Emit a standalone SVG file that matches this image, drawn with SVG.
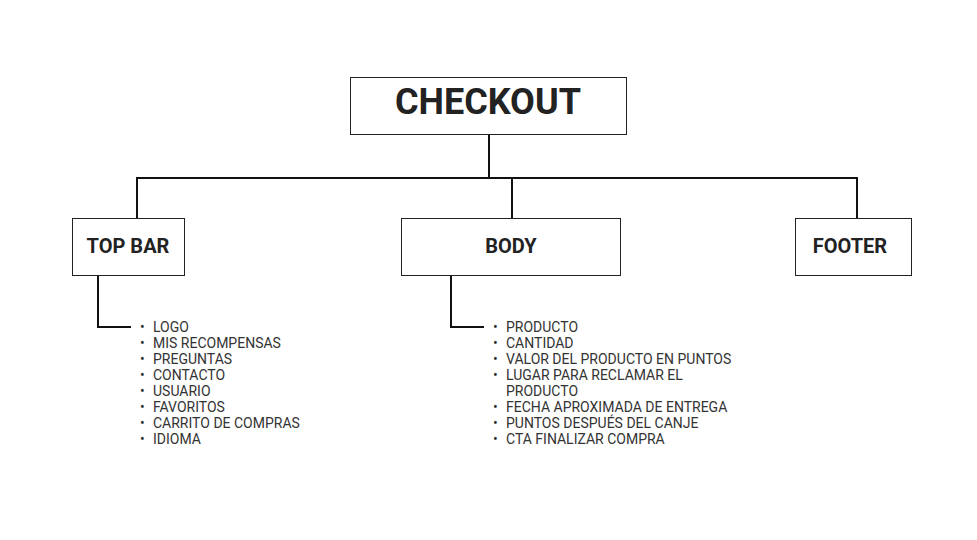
<svg xmlns="http://www.w3.org/2000/svg" width="977" height="540" viewBox="0 0 977 540">
<style>
.box{fill:#fff;stroke:#222;stroke-width:1}
.t{font-family:Roboto,"Liberation Sans",sans-serif;font-weight:bold;fill:#222;text-anchor:middle}
.l{font-family:Roboto,"Liberation Sans",sans-serif;font-size:14px;fill:#333}
.c{fill:none;stroke:#111;stroke-width:2}
</style>
<rect width="977" height="540" fill="#fff"/>
<g id="connectors">
<path class="c" d="M489 134V178M137 219V178H857V219M512 178V219"/>
<path class="c" d="M98 275V327H131M451 275V327H484"/>
</g>
<g id="checkout"><rect class="box" x="350.5" y="77.5" width="276" height="57"/><text class="t" x="488" y="114" font-size="36">CHECKOUT</text></g>
<g id="topbar"><rect class="box" x="72.5" y="218.5" width="112" height="57"/><text class="t" x="128" y="253" font-size="20">TOP BAR</text></g>
<g id="body"><rect class="box" x="401.5" y="218.5" width="219" height="57"/><text class="t" x="511" y="253" font-size="20">BODY</text></g>
<g id="footer"><rect class="box" x="795.5" y="218.5" width="116" height="57"/><text class="t" x="850" y="253" font-size="20">FOOTER</text></g>
<g id="topbar-list" class="l">
<text x="140" y="332">•</text><text x="153" y="332">LOGO</text>
<text x="140" y="348">•</text><text x="153" y="348">MIS RECOMPENSAS</text>
<text x="140" y="364">•</text><text x="153" y="364">PREGUNTAS</text>
<text x="140" y="380">•</text><text x="153" y="380">CONTACTO</text>
<text x="140" y="396">•</text><text x="153" y="396">USUARIO</text>
<text x="140" y="412">•</text><text x="153" y="412">FAVORITOS</text>
<text x="140" y="428">•</text><text x="153" y="428">CARRITO DE COMPRAS</text>
<text x="140" y="444">•</text><text x="153" y="444">IDIOMA</text>
</g>
<g id="body-list" class="l">
<text x="493" y="332">•</text><text x="506" y="332">PRODUCTO</text>
<text x="493" y="348">•</text><text x="506" y="348">CANTIDAD</text>
<text x="493" y="364">•</text><text x="506" y="364">VALOR DEL PRODUCTO EN PUNTOS</text>
<text x="493" y="380">•</text><text x="506" y="380">LUGAR PARA RECLAMAR EL</text>
<text x="506" y="396">PRODUCTO</text>
<text x="493" y="412">•</text><text x="506" y="412">FECHA APROXIMADA DE ENTREGA</text>
<text x="493" y="428">•</text><text x="506" y="428">PUNTOS DESPUÉS DEL CANJE</text>
<text x="493" y="444">•</text><text x="506" y="444">CTA FINALIZAR COMPRA</text>
</g>
</svg>
